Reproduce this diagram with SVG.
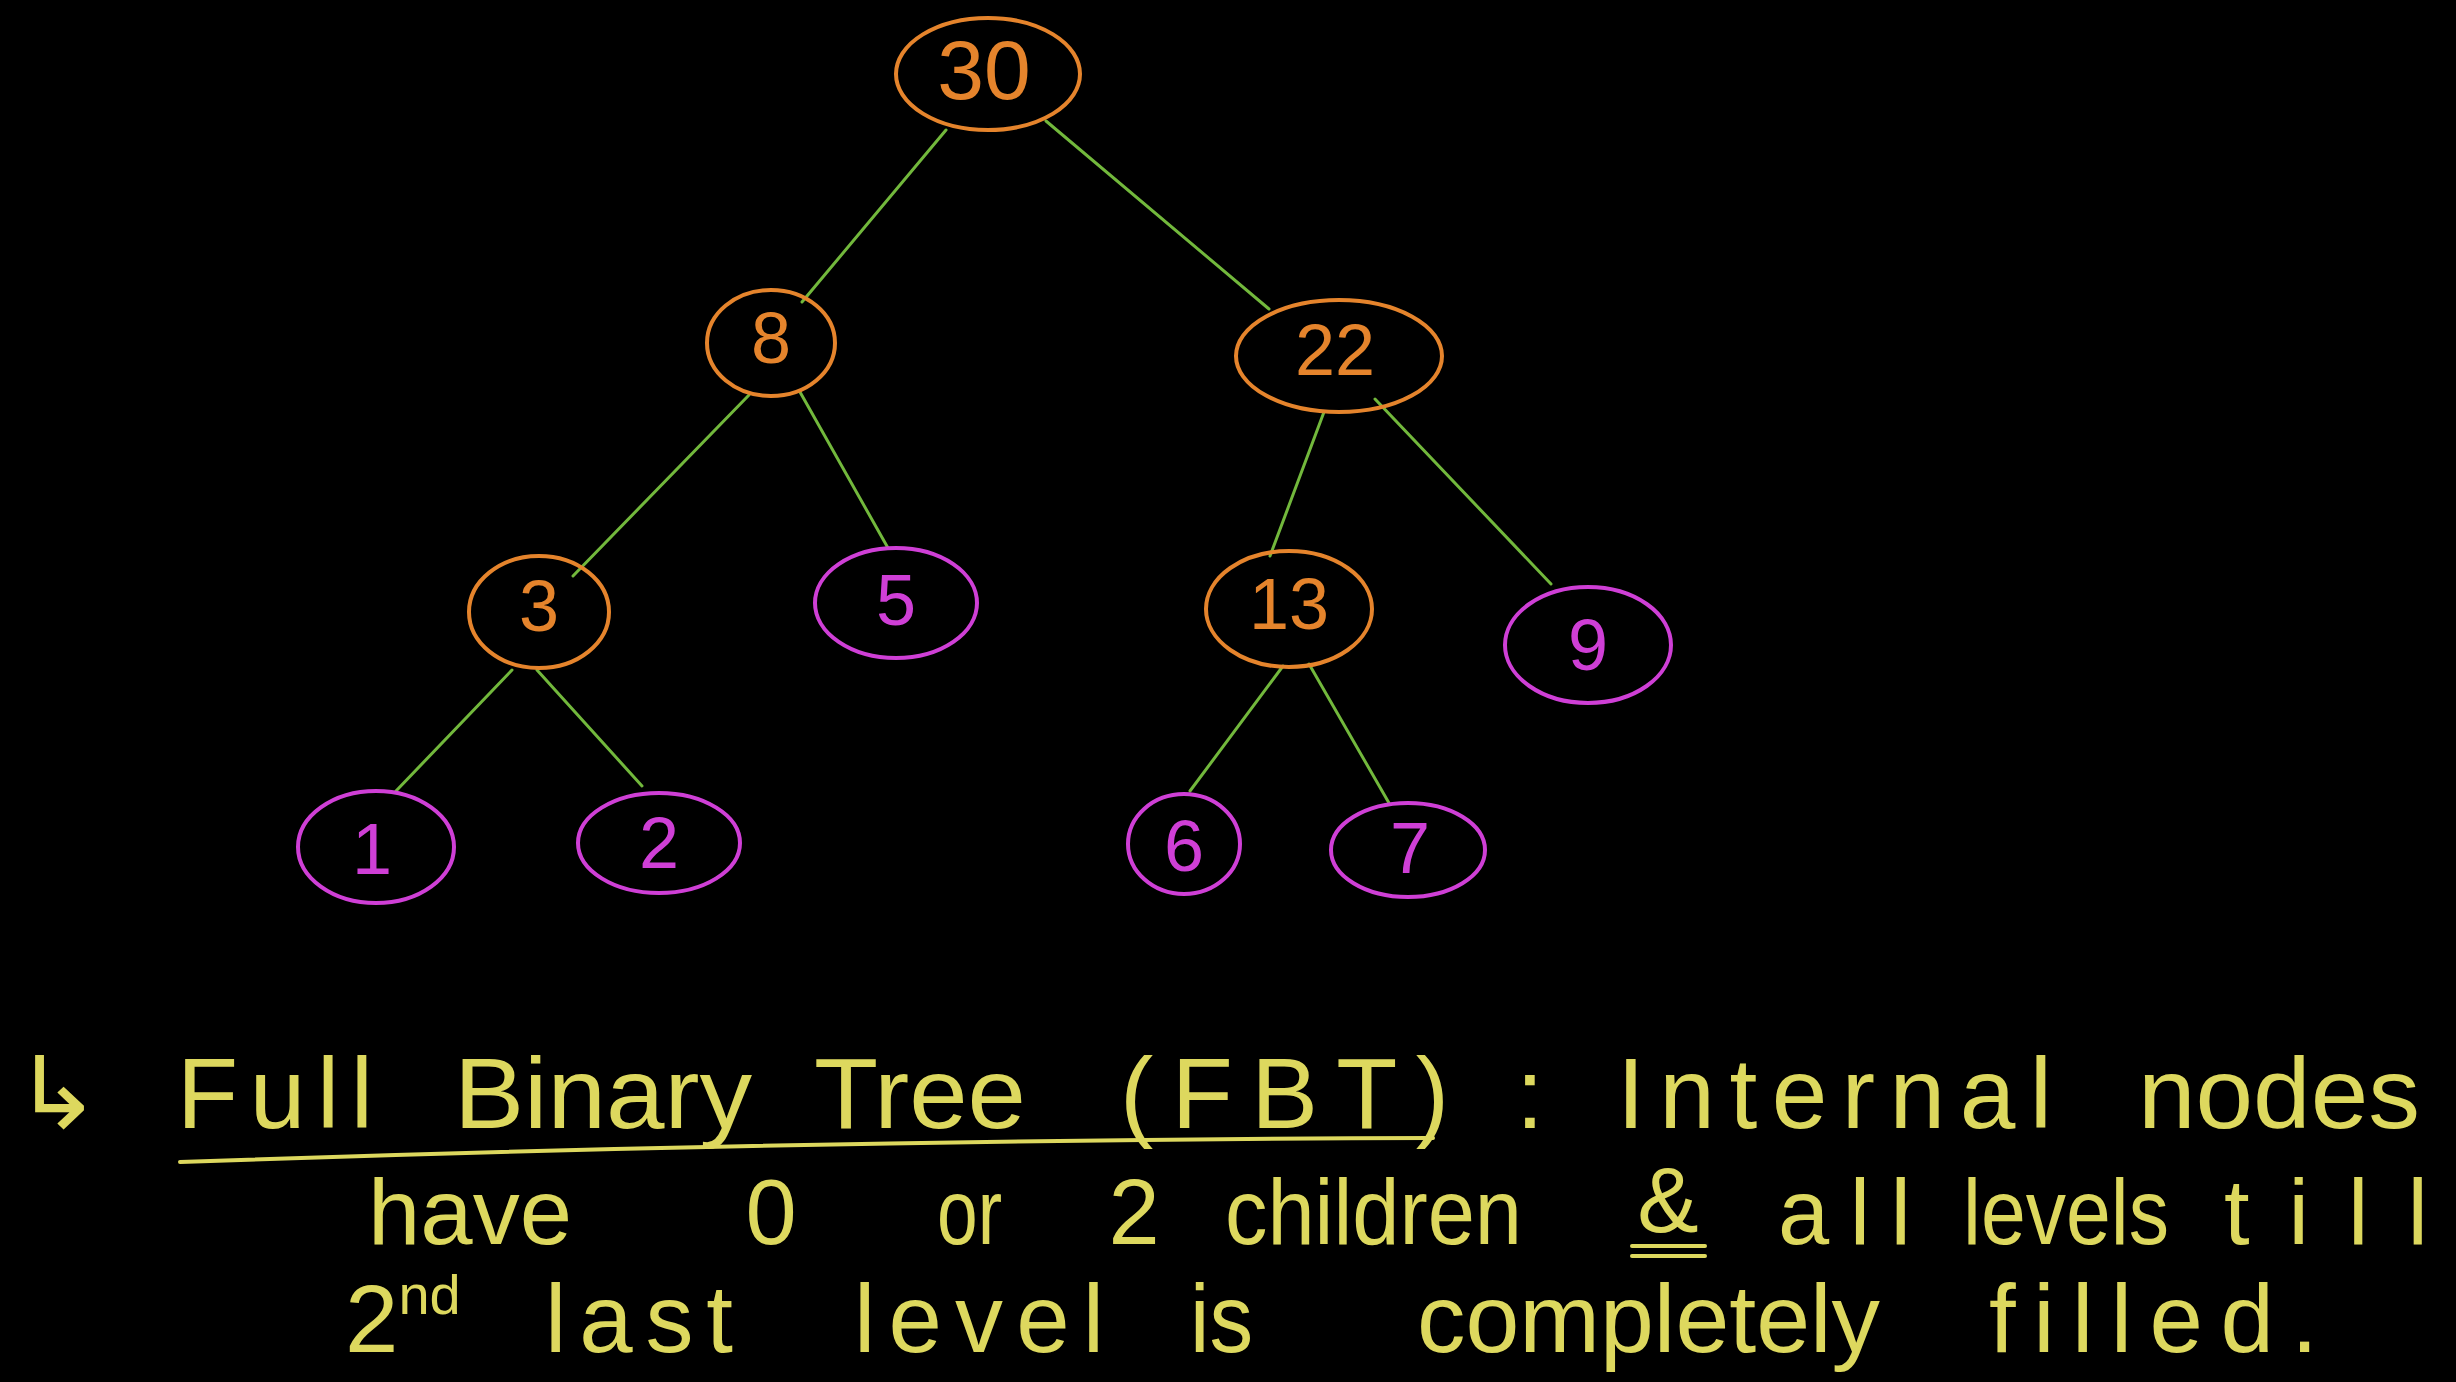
<svg xmlns="http://www.w3.org/2000/svg" width="2456" height="1382" viewBox="0 0 2456 1382">
<style>
.bg{fill:#000}
.int ellipse{fill:none;stroke:#e5842c;stroke-width:4}
.int text{fill:#e5842c}
.leaf ellipse{fill:none;stroke:#cf3fd6;stroke-width:4}
.leaf text{fill:#cf3fd6}
.lbl{font-family:"Liberation Sans",Arial,sans-serif;font-size:72px;text-anchor:middle;dominant-baseline:central}
#edges line{stroke:#72b83c;stroke-width:3;stroke-linecap:round}
.note{font-family:"Liberation Sans",Arial,sans-serif;fill:#ddd85e}
.c{text-anchor:middle}
.l1{font-size:100px}
.l2{font-size:92px}
.l3{font-size:96px}
.ul{fill:none;stroke:#ddd85e;stroke-width:4;stroke-linecap:round}
</style>
<rect class="bg" x="0" y="0" width="2456" height="1382"/>
<g id="edges">
<line x1="946" y1="130" x2="802" y2="302"/>
<line x1="1046" y1="121" x2="1269" y2="309"/>
<line x1="749" y1="395" x2="573" y2="576"/>
<line x1="800" y1="392" x2="888" y2="548"/>
<line x1="1324" y1="412" x2="1270" y2="556"/>
<line x1="1375" y1="399" x2="1551" y2="584"/>
<line x1="512" y1="670" x2="396" y2="791"/>
<line x1="537" y1="670" x2="642" y2="786"/>
<line x1="1283" y1="666" x2="1190" y2="791"/>
<line x1="1309" y1="664" x2="1389" y2="803"/>
</g>
<g id="n30" class="int"><ellipse cx="988" cy="74" rx="92" ry="56"/><text class="lbl" x="984" y="70" style="font-size:84px">30</text></g>
<g id="n8" class="int"><ellipse cx="771" cy="343" rx="64" ry="53"/><text class="lbl" x="771" y="338">8</text></g>
<g id="n22" class="int"><ellipse cx="1339" cy="356" rx="103" ry="56"/><text class="lbl" x="1335" y="350">22</text></g>
<g id="n3" class="int"><ellipse cx="539" cy="612" rx="70" ry="56"/><text class="lbl" x="539" y="606">3</text></g>
<g id="n5" class="leaf"><ellipse cx="896" cy="603" rx="81" ry="55"/><text class="lbl" x="896" y="600">5</text></g>
<g id="n13" class="int"><ellipse cx="1289" cy="609" rx="83" ry="58"/><text class="lbl" x="1289" y="604">13</text></g>
<g id="n9" class="leaf"><ellipse cx="1588" cy="645" rx="83" ry="58"/><text class="lbl" x="1588" y="645">9</text></g>
<g id="n1" class="leaf"><ellipse cx="376" cy="847" rx="78" ry="56"/><text class="lbl" x="372" y="849">1</text></g>
<g id="n2" class="leaf"><ellipse cx="659" cy="843" rx="81" ry="50"/><text class="lbl" x="659" y="843">2</text></g>
<g id="n6" class="leaf"><ellipse cx="1184" cy="844" rx="56" ry="50"/><text class="lbl" x="1184" y="846">6</text></g>
<g id="n7" class="leaf"><ellipse cx="1408" cy="850" rx="77" ry="47"/><text class="lbl" x="1410" y="848">7</text></g>
<g id="note">
<text class="note l1" x="13" y="1128" textLength="89" lengthAdjust="spacingAndGlyphs">↳</text>
<text class="note l1" x="177" y="1128" textLength="196" lengthAdjust="spacing">Full</text>
<text class="note l1" x="454" y="1128" textLength="298" lengthAdjust="spacingAndGlyphs">Binary</text>
<text class="note l1" x="814" y="1128" textLength="212" lengthAdjust="spacingAndGlyphs">Tree</text>
<text class="note l1" x="1120" y="1128" textLength="329" lengthAdjust="spacing">(FBT)</text>
<text class="note l1 c" x="1530" y="1128">:</text>
<text class="note l1" x="1617" y="1128" textLength="435" lengthAdjust="spacing">Internal</text>
<text class="note l1" x="2138" y="1128" textLength="282" lengthAdjust="spacingAndGlyphs">nodes</text>
<path class="ul" d="M180 1162 Q800 1140 1433 1138"/>
<text class="note l2" x="368" y="1244" textLength="204" lengthAdjust="spacingAndGlyphs">have</text>
<text class="note l2 c" x="771" y="1244">0</text>
<text class="note l2" x="937" y="1244" textLength="65" lengthAdjust="spacingAndGlyphs">or</text>
<text class="note l2 c" x="1134" y="1244">2</text>
<text class="note l2" x="1225" y="1244" textLength="297" lengthAdjust="spacingAndGlyphs">children</text>
<text class="note l2 c" x="1668" y="1232">&amp;</text>
<path class="ul" d="M1632 1246 L1705 1246 M1632 1256 L1705 1256"/>
<text class="note l2" x="1778" y="1244" textLength="133" lengthAdjust="spacing">all</text>
<text class="note l2" x="1963" y="1244" textLength="206" lengthAdjust="spacingAndGlyphs">levels</text>
<text class="note l2" x="2224" y="1244" textLength="204" lengthAdjust="spacing">till</text>
<text class="note l3" x="345" y="1352">2<tspan dy="-38" style="font-size:56px">nd</tspan></text>
<text class="note l3" x="545" y="1352" textLength="188" lengthAdjust="spacing">last</text>
<text class="note l3" x="854" y="1352" textLength="250" lengthAdjust="spacing">level</text>
<text class="note l3" x="1190" y="1352" textLength="63" lengthAdjust="spacingAndGlyphs">is</text>
<text class="note l3" x="1417" y="1352" textLength="463" lengthAdjust="spacingAndGlyphs">completely</text>
<text class="note l3" x="1989" y="1352" textLength="329" lengthAdjust="spacing">filled.</text>
</g>
</svg>
